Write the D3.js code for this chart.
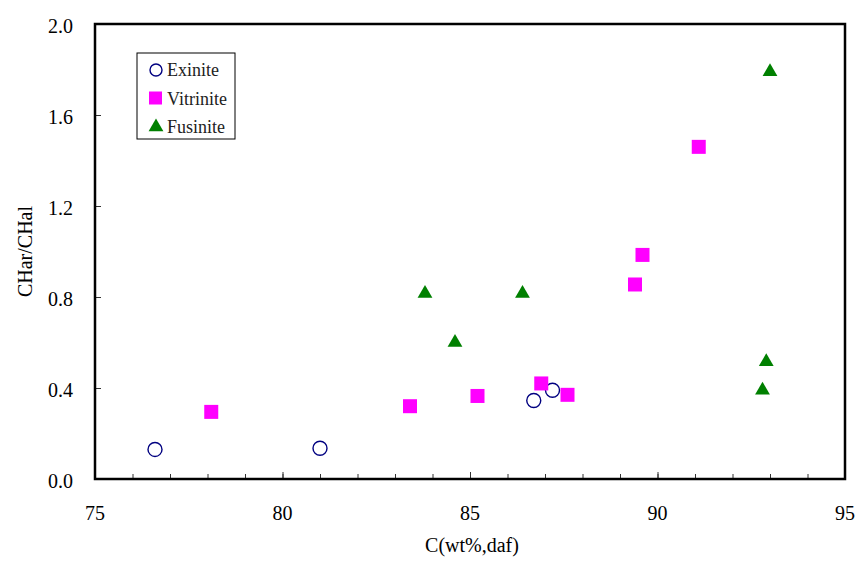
<!DOCTYPE html>
<html lang="en">
<head>
    <meta charset="UTF-8">
    <title>CHar/CHal vs C</title>
    <script src="https://d3js.org/d3.v7.min.js"></script>
    <style>
        body { margin: 0; background: #fff; }
        text { font-family: "Liberation Serif", "Times New Roman", serif; fill: #000; }
    </style>
</head>
<body>
    <div id="chart"></div>
    <script>
        // values
        const exiniteC = [76.6, 81.0, 86.7, 87.2];
        const exiniteR = [0.13, 0.135, 0.345, 0.39];

        const vitriniteC = [78.1, 83.4, 85.2, 86.9, 87.6, 89.4, 89.6, 91.1];
        const vitriniteR = [0.295, 0.32, 0.365, 0.42, 0.37, 0.855, 0.985, 1.46];

        const fusiniteC = [83.8, 86.4, 84.6, 93.0, 92.9, 92.8];
        const fusiniteR = [0.815, 0.815, 0.60, 1.79, 0.515, 0.39];

        const xTicks = [75, 80, 85, 90, 95];
        const yTicks = [0.0, 0.4, 0.8, 1.2, 1.6, 2.0];
        const seriesNames = ["Exinite", "Vitrinite", "Fusinite"];

        const width = 856, height = 563;
        const margin = { left: 95, right: 11, top: 24, bottom: 84 };
        const serif = "'Liberation Serif', 'Times New Roman', serif";

        const svg = d3.select("#chart").append("svg")
            .attr("width", width)
            .attr("height", height);

        const x = d3.scaleLinear().domain([75, 95]).range([margin.left, width - margin.right]);
        const y = d3.scaleLinear().domain([0, 2]).range([height - margin.bottom, margin.top]);

        // minor ticks on x (every 1), pointing inward
        svg.append("g")
            .attr("transform", `translate(0,${y(0)})`)
            .call(d3.axisBottom(x).tickValues(d3.range(75, 96, 1)).tickSize(-5).tickFormat(""))
            .call(g => g.select(".domain").remove())
            .call(g => g.selectAll(".tick line").attr("stroke", "#333"));

        // major x ticks
        svg.append("g")
            .attr("transform", `translate(0,${y(0)})`)
            .call(d3.axisBottom(x).tickValues(xTicks).tickSize(-7).tickFormat(""))
            .call(g => g.select(".domain").remove())
            .call(g => g.selectAll(".tick line").attr("stroke", "#333"));

        // y ticks
        svg.append("g")
            .attr("transform", `translate(${x(75)},0)`)
            .call(d3.axisLeft(y).tickValues(yTicks).tickSize(-6).tickFormat(""))
            .call(g => g.select(".domain").remove())
            .call(g => g.selectAll(".tick line").attr("stroke", "#333"));

        // tick labels
        svg.append("g").selectAll("text")
            .data(xTicks)
            .join("text")
            .attr("x", d => x(d))
            .attr("y", y(0) + 41)
            .attr("text-anchor", "middle")
            .attr("font-family", serif)
            .style("font-size", "20px")
            .text(d => d);

        svg.append("g").selectAll("text")
            .data(yTicks)
            .join("text")
            .attr("x", x(75) - 22)
            .attr("y", d => y(d) + 2)
            .attr("dy", "0.35em")
            .attr("text-anchor", "end")
            .attr("font-family", serif)
            .style("font-size", "20px")
            .text(d => d3.format(".1f")(d));

        // frame
        svg.append("rect")
            .attr("x", x(75))
            .attr("y", y(2))
            .attr("width", x(95) - x(75))
            .attr("height", y(0) - y(2))
            .attr("fill", "none")
            .attr("stroke", "#000")
            .attr("stroke-width", 2.5);

        // axis titles
        svg.append("text")
            .attr("x", (x(75) + x(95)) / 2 + 2)
            .attr("y", 552)
            .attr("text-anchor", "middle")
            .attr("font-family", serif)
            .style("font-size", "20px")
            .text("C(wt%,daf)");

        svg.append("text")
            .attr("transform", `translate(32,${(y(0) + y(2)) / 2}) rotate(-90)`)
            .attr("text-anchor", "middle")
            .attr("font-family", serif)
            .style("font-size", "20px")
            .text("CHar/CHal");

        const tri = d3.symbol().type(d3.symbolTriangle).size(95);

        // points
        const plot = svg.append("g");
        plot.selectAll("circle.ex")
            .data(d3.zip(exiniteC, exiniteR))
            .join("circle")
            .attr("class", "ex")
            .attr("cx", d => x(d[0]))
            .attr("cy", d => y(d[1]))
            .attr("r", 7)
            .attr("fill", "none")
            .attr("stroke", "#000080")
            .attr("stroke-width", 1.4);

        plot.selectAll("rect.vi")
            .data(d3.zip(vitriniteC, vitriniteR))
            .join("rect")
            .attr("class", "vi")
            .attr("x", d => x(d[0]) - 7)
            .attr("y", d => y(d[1]) - 7)
            .attr("width", 14)
            .attr("height", 14)
            .attr("fill", "#ff00ff");

        plot.selectAll("path.fu")
            .data(d3.zip(fusiniteC, fusiniteR))
            .join("path")
            .attr("class", "fu")
            .attr("d", tri)
            .attr("transform", d => `translate(${x(d[0])},${y(d[1])})`)
            .attr("fill", "#008000");

        // legend
        const legend = svg.append("g").attr("transform", "translate(137,53)");
        legend.append("rect")
            .attr("width", 98)
            .attr("height", 86)
            .attr("fill", "#fff")
            .attr("stroke", "#000")
            .attr("stroke-width", 1);

        const rows = [17, 45.5, 74];
        legend.append("circle")
            .attr("cx", 19).attr("cy", rows[0]).attr("r", 6)
            .attr("fill", "none").attr("stroke", "#000080").attr("stroke-width", 1.4);
        legend.append("rect")
            .attr("x", 12).attr("y", rows[1] - 7).attr("width", 13).attr("height", 13)
            .attr("fill", "#ff00ff");
        legend.append("path")
            .attr("d", tri)
            .attr("transform", `translate(19,${rows[2]})`)
            .attr("fill", "#008000");

        legend.selectAll("text")
            .data(seriesNames)
            .join("text")
            .attr("x", 30)
            .attr("y", (d, i) => rows[i])
            .attr("dy", "0.35em")
            .attr("font-family", serif)
            .style("font-size", "18px")
            .style("fill", "#222")
            .text(d => d);
    </script>
</body>
</html>
